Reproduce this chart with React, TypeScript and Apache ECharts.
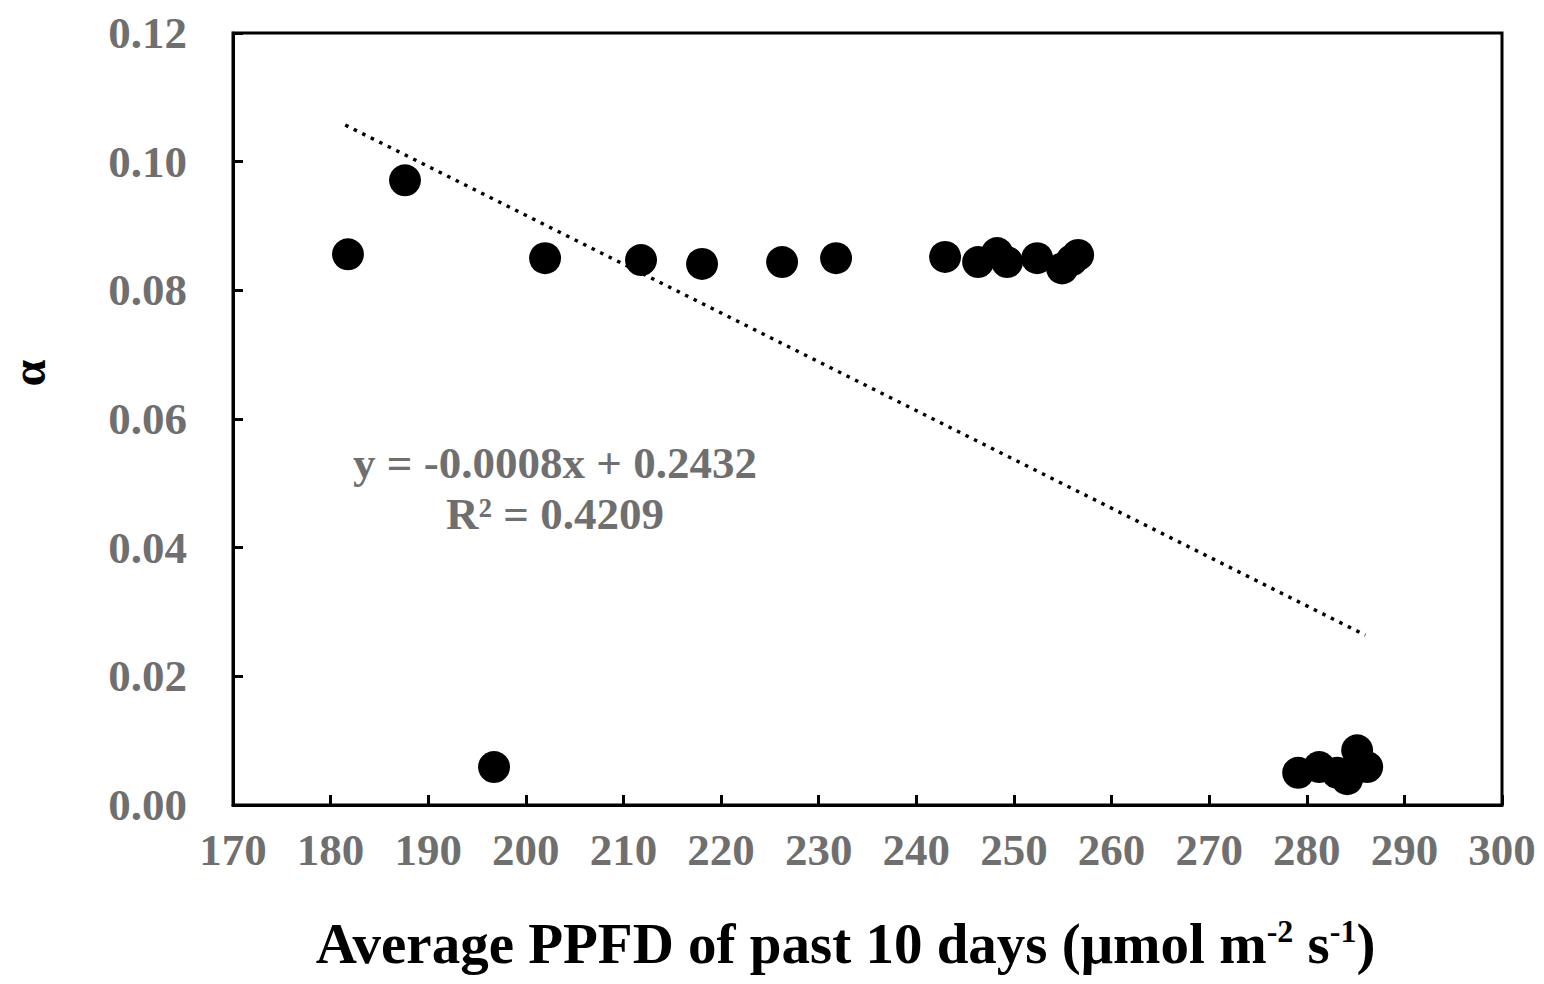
import React, { useEffect, useRef } from "react";
import * as echarts from "echarts";

const ppfd = [181.78, 187.62, 196.74, 201.97, 211.8, 218.05, 226.25, 231.78, 242.95, 246.33, 248.28, 249.3, 252.38, 254.94, 255.96, 256.58, 279.12, 281.27, 283.11, 284.14, 285.16, 285.4, 286.19];
const alpha = [0.0856, 0.0971, 0.0059, 0.085, 0.0847, 0.0841, 0.0844, 0.085, 0.0852, 0.0844, 0.0858, 0.0844, 0.085, 0.0834, 0.0847, 0.0855, 0.005, 0.0059, 0.005, 0.004, 0.0085, 0.0067, 0.0059];
const trendX = [181.5, 286.0];
const trendY = [0.1057, 0.0264];
const equationLines = ["y = -0.0008x + 0.2432", "R² = 0.4209"];

const FONT = "'Liberation Serif', 'Times New Roman', serif";
const GRAY = "#6f6f6f";

export default function App() {
  const ref = useRef<HTMLDivElement>(null);
  useEffect(() => {
    document.body.style.margin = "0";
    const chart = echarts.init(ref.current!, null, { renderer: "svg" });
    chart.setOption({
      animation: false,
      backgroundColor: "#ffffff",
      grid: {
        left: 233,
        right: 42,
        top: 33,
        bottom: 179,
        show: true,
        borderColor: "#000",
        borderWidth: 3,
      },
      xAxis: {
        type: "value",
        min: 170,
        max: 300,
        interval: 10,
        splitLine: { show: false },
        axisLine: { show: true, lineStyle: { color: "#000", width: 3 } },
        axisTick: { show: true, inside: true, length: 10, lineStyle: { color: "#000", width: 3 } },
        axisLabel: { color: GRAY, fontFamily: FONT, fontWeight: "bold", fontSize: 45, margin: 22 },
        name: "Average PPFD of past 10 days (μmol m{sup|-2} s{sup|-1})",
        nameLocation: "middle",
        nameGap: 110,
        nameTextStyle: {
          color: "#000",
          fontFamily: FONT,
          fontWeight: "bold",
          fontSize: 57,
          padding: [0, 44, 0, 0],
          rich: {
            sup: { fontFamily: FONT, fontWeight: "bold", fontSize: 32, color: "#000", verticalAlign: "top", padding: [0, 0, 24, 0] },
          },
        },
      },
      yAxis: {
        type: "value",
        min: 0,
        max: 0.12,
        interval: 0.02,
        splitLine: { show: false },
        axisLine: { show: true, lineStyle: { color: "#000", width: 3 } },
        axisTick: { show: true, inside: true, length: 10, lineStyle: { color: "#000", width: 3 } },
        axisLabel: {
          color: GRAY,
          fontFamily: FONT,
          fontWeight: "bold",
          fontSize: 45,
          margin: 46,
          formatter: (v: number) => v.toFixed(2),
        },
      },
      graphic: [
        {
          type: "text",
          x: 28,
          y: 373,
          rotation: Math.PI / 2,
          style: {
            text: "α",
            fontFamily: FONT,
            fontWeight: "bold",
            fontSize: 48,
            lineHeight: 40,
            fill: "#000",
            align: "center",
            verticalAlign: "middle",
          },
        },
        {
          type: "text",
          x: 555,
          y: 463,
          style: {
            text: equationLines[0],
            fontFamily: FONT,
            fontWeight: "bold",
            fontSize: 45,
            fill: GRAY,
            align: "center",
            verticalAlign: "middle",
          },
        },
        {
          type: "text",
          x: 555,
          y: 514,
          style: {
            text: equationLines[1],
            fontFamily: FONT,
            fontWeight: "bold",
            fontSize: 45,
            fill: GRAY,
            align: "center",
            verticalAlign: "middle",
          },
        },
      ],
      series: [
        {
          type: "line",
          data: trendX.map((x, i) => [x, trendY[i]]),
          showSymbol: false,
          symbol: "none",
          lineStyle: { color: "#000", width: 3.5, type: [3.5, 6], cap: "butt" },
          z: 1,
        },
        {
          type: "scatter",
          data: ppfd.map((x, i) => [x, alpha[i]]),
          symbol: "circle",
          symbolSize: 32,
          itemStyle: { color: "#000", opacity: 1 },
          z: 2,
        },
      ],
    });
    return () => chart.dispose();
  }, []);
  return <div ref={ref} style={{ width: 1544, height: 984 }} />;
}
